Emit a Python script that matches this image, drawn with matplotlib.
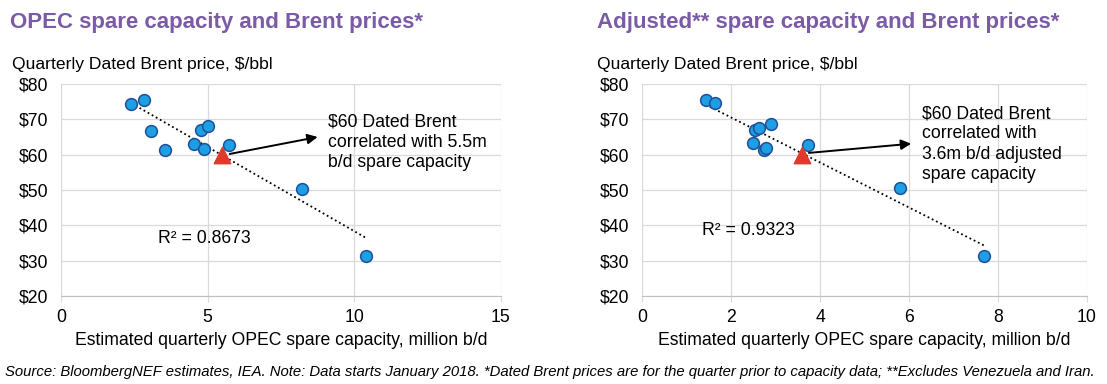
import numpy as np
import matplotlib
matplotlib.use('Agg')
import matplotlib.pyplot as plt

plt.rcParams['font.family'] = ['Liberation Sans', 'DejaVu Sans']

# データ
opec_spare = [2.40, 2.82, 3.08, 3.54, 4.53, 4.77, 5.00, 4.89, 5.73, 8.21, 10.40]
opec_brent = [74.3, 75.5, 66.7, 61.4, 63.1, 67.0, 68.2, 61.7, 62.7, 50.3, 31.2]
adj_spare = [1.43, 1.63, 2.49, 2.54, 2.62, 2.90, 2.74, 2.78, 3.74, 5.79, 7.69]
adj_brent = [75.5, 74.5, 63.3, 66.9, 67.6, 68.6, 61.4, 61.9, 62.7, 50.7, 31.4]

opec_point = (5.5, 60)
adj_point = (3.6, 60)
r2_labels = ['R² = 0.8673', 'R² = 0.9323']

y_ticks = [20, 30, 40, 50, 60, 70, 80]
y_ticklabels = ['$20', '$30', '$40', '$50', '$60', '$70', '$80']

TITLE_COLOR = '#7B5AA6'
DOT_FILL = '#1E9FE3'
DOT_EDGE = '#1F4F99'
TRI_COLOR = '#E03A2C'
GRID = '#D9D9D9'
FS = 12.7

W, H = 1107, 384
fig = plt.figure(figsize=(W / 100, H / 100), dpi=100)


def px_axes(x0, x1, ytop, ybot):
    return fig.add_axes([x0 / W, 1 - ybot / H, (x1 - x0) / W, (ybot - ytop) / H])


def draw_panel(ax, xs, ys, xmax, xstep, point, r2, r2_xy, arrow_from, arrow_to,
               note, note_xy):
    ax.set_xlim(0, xmax)
    ax.set_ylim(20, 80)
    ax.set_xticks(np.arange(0, xmax + 0.01, xstep))
    ax.set_yticks(y_ticks)
    ax.set_yticklabels(y_ticklabels)
    ax.grid(True, color=GRID, linewidth=0.9)
    ax.set_axisbelow(True)
    for side in ['top', 'right', 'left']:
        ax.spines[side].set_visible(False)
    ax.spines['bottom'].set_color('#BFBFBF')
    ax.tick_params(axis='x', length=4, color=GRID, labelsize=FS, pad=5)
    ax.tick_params(axis='y', length=0, labelsize=FS, pad=9)
    ax.set_xlabel('Estimated quarterly OPEC spare capacity, million b/d',
                  fontsize=FS, labelpad=5)

    # 近似直線（点線）
    k, b = np.polyfit(xs, ys, 1)
    xl = np.array([min(xs), max(xs)])
    ax.plot(xl, k * xl + b, color='black', linestyle=(0, (1, 1.6)),
            linewidth=1.3, zorder=2)

    ax.scatter(xs, ys, s=72, color=DOT_FILL, edgecolors=DOT_EDGE,
               linewidths=1.1, zorder=3)
    ax.scatter([point[0]], [point[1]], marker='^', s=140, color=TRI_COLOR,
               zorder=4)

    ax.annotate('', xy=arrow_to, xytext=arrow_from,
                arrowprops=dict(arrowstyle='-|>', color='black', lw=1.4,
                                mutation_scale=15, shrinkA=0, shrinkB=0))
    ax.text(note_xy[0], note_xy[1], note, fontsize=FS, va='center',
            ha='left', linespacing=1.25)
    ax.text(r2_xy[0], r2_xy[1], r2, fontsize=FS, va='center', ha='left')


ax1 = px_axes(61, 501, 84, 296)
draw_panel(ax1, opec_spare, opec_brent, 15, 5, opec_point, r2_labels[0],
           (3.3, 36.4), (5.75, 60.2), (8.75, 65.0),
           '$60 Dated Brent\ncorrelated with 5.5m\nb/d spare capacity',
           (9.1, 63.5))

ax2 = px_axes(642, 1087, 84, 296)
draw_panel(ax2, adj_spare, adj_brent, 10, 2, adj_point, r2_labels[1],
           (1.35, 38.6), (3.75, 60.5), (6.05, 63.1),
           '$60 Dated Brent\ncorrelated with\n3.6m b/d adjusted\nspare capacity',
           (6.3, 63.0))

# タイトル類
fig.text(10 / W, 1 - 28 / H, 'OPEC spare capacity and Brent prices*',
         fontsize=16, fontweight='bold', color=TITLE_COLOR, va='baseline')
fig.text(597 / W, 1 - 28 / H, 'Adjusted** spare capacity and Brent prices*',
         fontsize=16, fontweight='bold', color=TITLE_COLOR, va='baseline')
fig.text(12 / W, 1 - 69 / H, 'Quarterly Dated Brent price, $/bbl',
         fontsize=12.6, va='baseline')
fig.text(597 / W, 1 - 69 / H, 'Quarterly Dated Brent price, $/bbl',
         fontsize=12.6, va='baseline')

fig.text(5 / W, 1 - 372 / H,
         'Source: BloombergNEF estimates, IEA. Note: Data starts January 2018. '
         '*Dated Brent prices are for the quarter prior to capacity data; '
         '**Excludes Venezuela and Iran.',
         fontsize=10.7, style='italic', va='center')

fig.savefig('out.png', dpi=100)
